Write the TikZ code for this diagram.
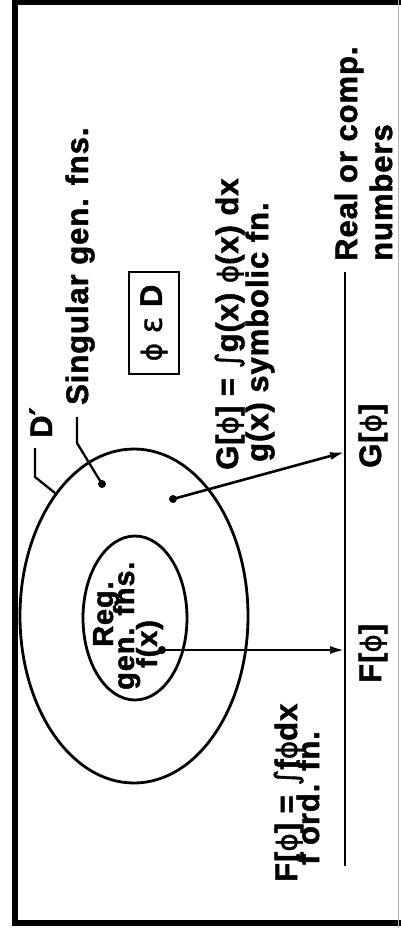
\documentclass[tikz,border=0pt]{standalone}
\usepackage{fontspec}
\setmainfont{Liberation Sans}[LetterSpace=3,BoldFeatures={FakeBold=1.6}]
\newfontfamily\dvsans{DejaVu Sans}[LetterSpace=3,FakeBold=1.2]
\newcommand{\gphi}{{\dvsans\mdseries\scalebox{0.9}{ϕ}}}
\newcommand{\gint}{{\dvsans\mdseries ∫}}
\newcommand{\geps}{{\dvsans\mdseries ε}}
\newcommand{\gprime}{{\dvsans ′}}
\usetikzlibrary{arrows.meta,shapes.geometric}
\begin{document}
\begin{tikzpicture}[x=1pt,y=-1pt,
 txtfont/.style={font=\fontsize{31}{34}\selectfont\bfseries},
 txt/.style={txtfont, rotate=90, anchor=base west, inner sep=0pt},
 intxt/.style={txt, font=\fontsize{29}{32}\selectfont\bfseries},
 ln/.style={line width=2.8pt},
 lead/.style={line width=2.3pt},
 dot/.style={circle, fill, inner sep=0pt, minimum size=8pt},
 arr/.style={line width=2.6pt, -{Latex[length=15pt,width=8pt]}},
 oval/.style={draw, ellipse, line width=2.8pt, inner sep=0pt},
]
\useasboundingbox (0,0) rectangle (400,928);
\fill[white] (0,0) rectangle (400,928);
% frame
\draw[line width=6pt] (405,2.5) -- (15,2.5) -- (15,923) -- (405,923);
\draw[gray!60, line width=0.8pt] (398.5,0) -- (398.5,928);
% ellipses
\node[oval, minimum width=228pt, minimum height=334pt] (outer) at (134,616) {};
\node[oval, minimum width=104pt, minimum height=164pt] (inner) at (135,618) {};
% number line
\coordinate (ltop) at (345,272);
\coordinate (lbot) at (345,866);
\draw[ln] (lbot) -- (ltop);
% arrows
\node[dot] (fdot) at (162,650) {};
\coordinate (fhit) at (345,650);
\draw[arr] (fdot.center) -- (fhit);
\node[dot] (gdot) at (173,499) {};
\coordinate (ghit) at (345,452);
\draw[arr] (gdot.center) -- (ghit);
% leaders
\node[dot] (sdot) at (102,484) {};
\coordinate (sbend) at (77,443);
\coordinate (stop) at (77,417);
\draw[lead] (sdot.center) -- (sbend) -- (stop);
\coordinate (dend) at (55,493);
\coordinate (dbend) at (35,477);
\coordinate (dtop) at (35,448);
\draw[lead] (dend) -- (dbend) -- (dtop);
% box
\node[draw, line width=2pt, rotate=90, minimum width=102pt, minimum height=50pt, inner sep=0pt,
      txtfont] (phibox) at (154,323) {\gphi\ \geps\ D};
% texts
\node[txt] (real1) at (357,261) {Real or comp.};
\node[txt] (real2) at (392,261) {numbers};
\node[txt] (sing) at (88,405) {Singular gen. fns.};
\node[txt] (dp) at (52,438) {D\gprime};
\node[txt] (g1) at (238,470) {G[\gphi] = \gint g(x) \gphi(x) dx};
\node[txt] (g2) at (268,462) {g(x) symbolic fn.};
\node[txt] (f1) at (297,882) {F[\gphi] = \gint f\gphi dx};
\node[txt] (f2) at (319,865) {f ord. fn.};
\node[txt] (flab) at (381,683) {F[\gphi]};
\node[txt] (glab) at (381,468) {G[\gphi]};
\node[intxt] (reg1) at (113,647) {Reg.};
\node[intxt] (reg2) at (134,690) {gen. fns.};
\node[intxt] (reg3) at (157,668) {f(x)};
\end{tikzpicture}
\end{document}
